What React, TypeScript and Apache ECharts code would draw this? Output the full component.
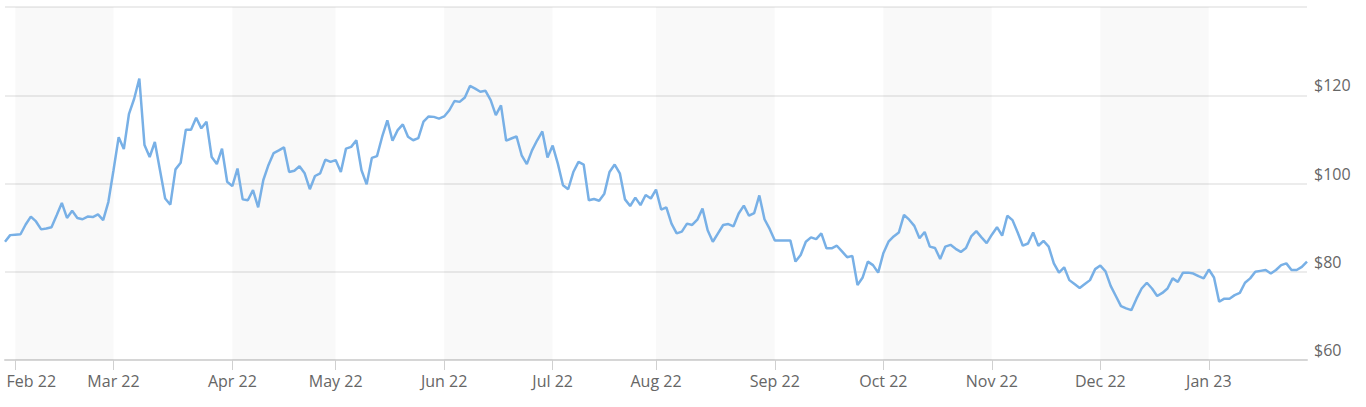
import React, { useEffect, useRef } from 'react';
import * as echarts from 'echarts';

// Trading days (day of month) and closing prices, per month
const jan22Days = [28, 31];
const jan22 = [86.8, 88.3];
const feb22Days = [1, 2, 3, 4, 7, 8, 9, 10, 11, 14, 15, 16, 17, 18, 22, 23, 24, 25, 28];
const feb22 = [88.4, 88.5, 90.7, 92.5, 91.4, 89.6, 89.8, 90.1, 92.8, 95.6, 92.2, 93.8, 92.2, 91.9, 92.5, 92.4, 93.0, 91.7, 95.8];
const mar22Days = [1, 2, 3, 4, 7, 8, 9, 10, 11, 14, 15, 16, 17, 18, 21, 22, 23, 24, 25, 28, 29, 30, 31];
const mar22 = [103.0, 110.5, 107.8, 115.8, 119.2, 123.8, 108.7, 106.0, 109.4, 103.0, 96.6, 95.2, 103.2, 104.7, 112.2, 112.2, 114.9, 112.5, 114.0, 106.0, 104.4, 107.9, 100.4];
const apr22Days = [1, 4, 5, 6, 7, 8, 11, 12, 13, 14, 18, 19, 20, 21, 22, 25, 26, 27, 28, 29];
const apr22 = [99.4, 103.4, 96.4, 96.2, 98.5, 94.6, 100.8, 104.2, 106.9, 107.5, 108.2, 102.6, 102.9, 103.9, 102.3, 98.7, 101.7, 102.3, 105.4, 104.9];
const may22Days = [2, 3, 4, 5, 6, 9, 10, 11, 12, 13, 16, 17, 18, 19, 20, 23, 24, 25, 26, 27, 31];
const may22 = [105.3, 102.6, 107.9, 108.3, 109.8, 103.0, 99.8, 105.8, 106.2, 110.6, 114.3, 109.7, 112.1, 113.4, 110.6, 109.8, 110.3, 114.0, 115.2, 115.1, 114.7];
const jun22Days = [1, 2, 3, 6, 7, 8, 9, 10, 13, 14, 15, 16, 17, 21, 22, 23, 24, 27, 28, 29, 30];
const jun22 = [115.2, 116.6, 118.7, 118.5, 119.5, 122.1, 121.5, 120.8, 121.0, 118.9, 115.5, 117.7, 109.7, 110.2, 110.7, 106.4, 104.4, 107.5, 109.8, 111.8, 105.9];
const jul22Days = [1, 5, 6, 7, 8, 11, 12, 13, 14, 15, 18, 19, 20, 21, 22, 25, 26, 27, 28, 29];
const jul22 = [108.6, 104.5, 99.6, 98.7, 102.6, 104.9, 104.3, 96.2, 96.5, 96.1, 97.7, 102.6, 104.3, 102.3, 96.4, 94.9, 96.8, 95.1, 97.4, 96.6];
const aug22Days = [1, 2, 3, 4, 5, 8, 9, 10, 11, 12, 15, 16, 17, 18, 19, 22, 23, 24, 25, 26, 29, 30, 31];
const aug22 = [98.6, 94.1, 94.6, 90.9, 88.7, 89.1, 90.9, 90.6, 91.8, 94.3, 89.4, 86.8, 88.7, 90.6, 90.8, 90.3, 93.2, 95.0, 92.7, 93.3, 97.3, 91.9, 89.7];
const sep22Days = [1, 2, 6, 7, 8, 9, 12, 13, 14, 15, 16, 19, 20, 21, 22, 23, 26, 27, 28, 29, 30];
const sep22 = [87.1, 87.1, 87.1, 87.1, 82.3, 83.8, 86.8, 87.8, 87.4, 88.7, 85.3, 85.3, 85.9, 84.6, 83.3, 83.6, 77.0, 78.7, 82.3, 81.5, 79.8];
const oct22Days = [3, 4, 5, 6, 7, 10, 11, 12, 13, 14, 17, 18, 19, 20, 21, 24, 25, 26, 27, 28, 31];
const oct22 = [84.2, 86.8, 88.0, 88.9, 92.9, 91.8, 90.4, 87.6, 89.0, 85.7, 85.4, 82.9, 85.7, 86.1, 85.2, 84.5, 85.4, 88.0, 89.2, 87.8, 86.5];
const nov22Days = [1, 2, 3, 4, 7, 8, 9, 10, 11, 14, 15, 16, 17, 18, 21, 22, 23, 25, 28, 29, 30];
const nov22 = [88.4, 90.1, 88.2, 92.7, 91.7, 88.9, 85.9, 86.4, 88.9, 85.9, 87.0, 85.7, 81.9, 79.8, 81.0, 78.1, 77.2, 76.3, 77.2, 78.1, 80.6];
const dec22Days = [1, 2, 5, 6, 7, 8, 9, 12, 13, 14, 15, 16, 19, 20, 21, 22, 23, 27, 28, 29, 30];
const dec22 = [81.4, 80.1, 76.8, 74.5, 72.2, 71.7, 71.3, 73.9, 76.2, 77.5, 76.2, 74.5, 75.2, 76.2, 78.5, 77.7, 79.8, 79.8, 79.6, 79.0, 78.5];
const jan23Days = [3, 4, 5, 6, 9, 10, 11, 12, 13, 17, 18, 19, 20, 23, 24, 25, 26, 27, 30, 31];
const jan23 = [80.5, 78.7, 73.2, 73.9, 73.9, 74.7, 75.2, 77.5, 78.5, 80.0, 80.2, 80.4, 79.6, 80.4, 81.5, 81.9, 80.4, 80.4, 81.1, 82.3];

const monthNames = ['Jan', 'Feb', 'Mar', 'Apr', 'May', 'Jun', 'Jul', 'Aug', 'Sep', 'Oct', 'Nov', 'Dec'];
const yTicks = [60, 80, 100, 120, 140];

const monthGroups = [
  { year: 2022, month: 1, days: jan22Days, values: jan22 },
  { year: 2022, month: 2, days: feb22Days, values: feb22 },
  { year: 2022, month: 3, days: mar22Days, values: mar22 },
  { year: 2022, month: 4, days: apr22Days, values: apr22 },
  { year: 2022, month: 5, days: may22Days, values: may22 },
  { year: 2022, month: 6, days: jun22Days, values: jun22 },
  { year: 2022, month: 7, days: jul22Days, values: jul22 },
  { year: 2022, month: 8, days: aug22Days, values: aug22 },
  { year: 2022, month: 9, days: sep22Days, values: sep22 },
  { year: 2022, month: 10, days: oct22Days, values: oct22 },
  { year: 2022, month: 11, days: nov22Days, values: nov22 },
  { year: 2022, month: 12, days: dec22Days, values: dec22 },
  { year: 2023, month: 1, days: jan23Days, values: jan23 },
];

const pad = (n: number) => (n < 10 ? '0' + n : '' + n);

export default function App() {
  const ref = useRef<HTMLDivElement>(null);

  useEffect(() => {
    if (!ref.current) return;
    const chart = echarts.init(ref.current, undefined, { renderer: 'svg' });

    const categories: string[] = [];
    const values: number[] = [];
    const tickLabel: Record<string, string> = {};
    const starts: string[] = [];
    monthGroups.forEach((g, gi) => {
      g.days.forEach((d, di) => {
        const key = `${g.year}-${pad(g.month)}-${pad(d)}`;
        categories.push(key);
        values.push(g.values[di]);
        if (di === 0 && gi > 0) {
          tickLabel[key] = `${monthNames[g.month - 1]} ${String(g.year).slice(2)}`;
          starts.push(key);
        }
      });
    });
    const firstTick = starts[0];
    const isTick = (_i: number, v: string) => tickLabel[v] !== undefined;

    // shaded bands: Feb, Apr, Jun, Aug, Oct, Dec
    const bands: any[] = [];
    for (let s = 0; s + 1 < starts.length; s += 2) {
      bands.push([{ xAxis: starts[s] }, { xAxis: starts[s + 1] }]);
    }

    const font = '"Open Sans", sans-serif';

    chart.setOption({
      animation: false,
      backgroundColor: '#ffffff',
      grid: { left: 5, right: 59, top: 7, bottom: 47, containLabel: false, outerBoundsMode: 'none' },
      xAxis: {
        type: 'category',
        data: categories,
        boundaryGap: false,
        axisLine: { lineStyle: { color: '#d6d6d6', width: 2 } },
        axisTick: { interval: isTick, length: 10, lineStyle: { color: '#d0d0d0', width: 1 } },
        axisLabel: {
          interval: isTick,
          color: '#666666',
          fontSize: 16,
          fontFamily: font,
          margin: 13,
          lineHeight: 16,
          formatter: (v: string) => (v === firstTick ? `{f|${tickLabel[v]}}` : tickLabel[v] || ''),
          rich: {
            f: { color: '#666666', fontSize: 16, fontFamily: font, lineHeight: 16, padding: [0, 0, 0, 32] },
          },
        },
        splitLine: { show: false },
      },
      yAxis: {
        type: 'value',
        position: 'right',
        min: yTicks[0],
        max: yTicks[yTicks.length - 1],
        interval: 20,
        axisLine: { show: false },
        axisTick: { show: false },
        splitLine: { lineStyle: { color: '#e6e6e6', width: 1.5 } },
        axisLabel: {
          formatter: (v: number) => (v === yTicks[yTicks.length - 1] ? '' : '$' + v),
          color: '#666666',
          fontSize: 16,
          fontFamily: font,
          margin: 7,
          verticalAlign: 'bottom',
          lineHeight: 16,
          padding: [0, 0, 2, 0],
        },
      },
      series: [
        {
          type: 'line',
          data: values,
          symbol: 'none',
          lineStyle: { color: '#78b0e6', width: 2.5 },
          markArea: {
            silent: true,
            itemStyle: { color: 'rgba(0,0,0,0.025)' },
            data: bands,
          },
        },
      ],
    });

    return () => chart.dispose();
  }, []);

  return (
    <div
      ref={ref}
      style={{ position: 'absolute', left: 0, top: 0, width: 1366, height: 407 }}
    />
  );
}
